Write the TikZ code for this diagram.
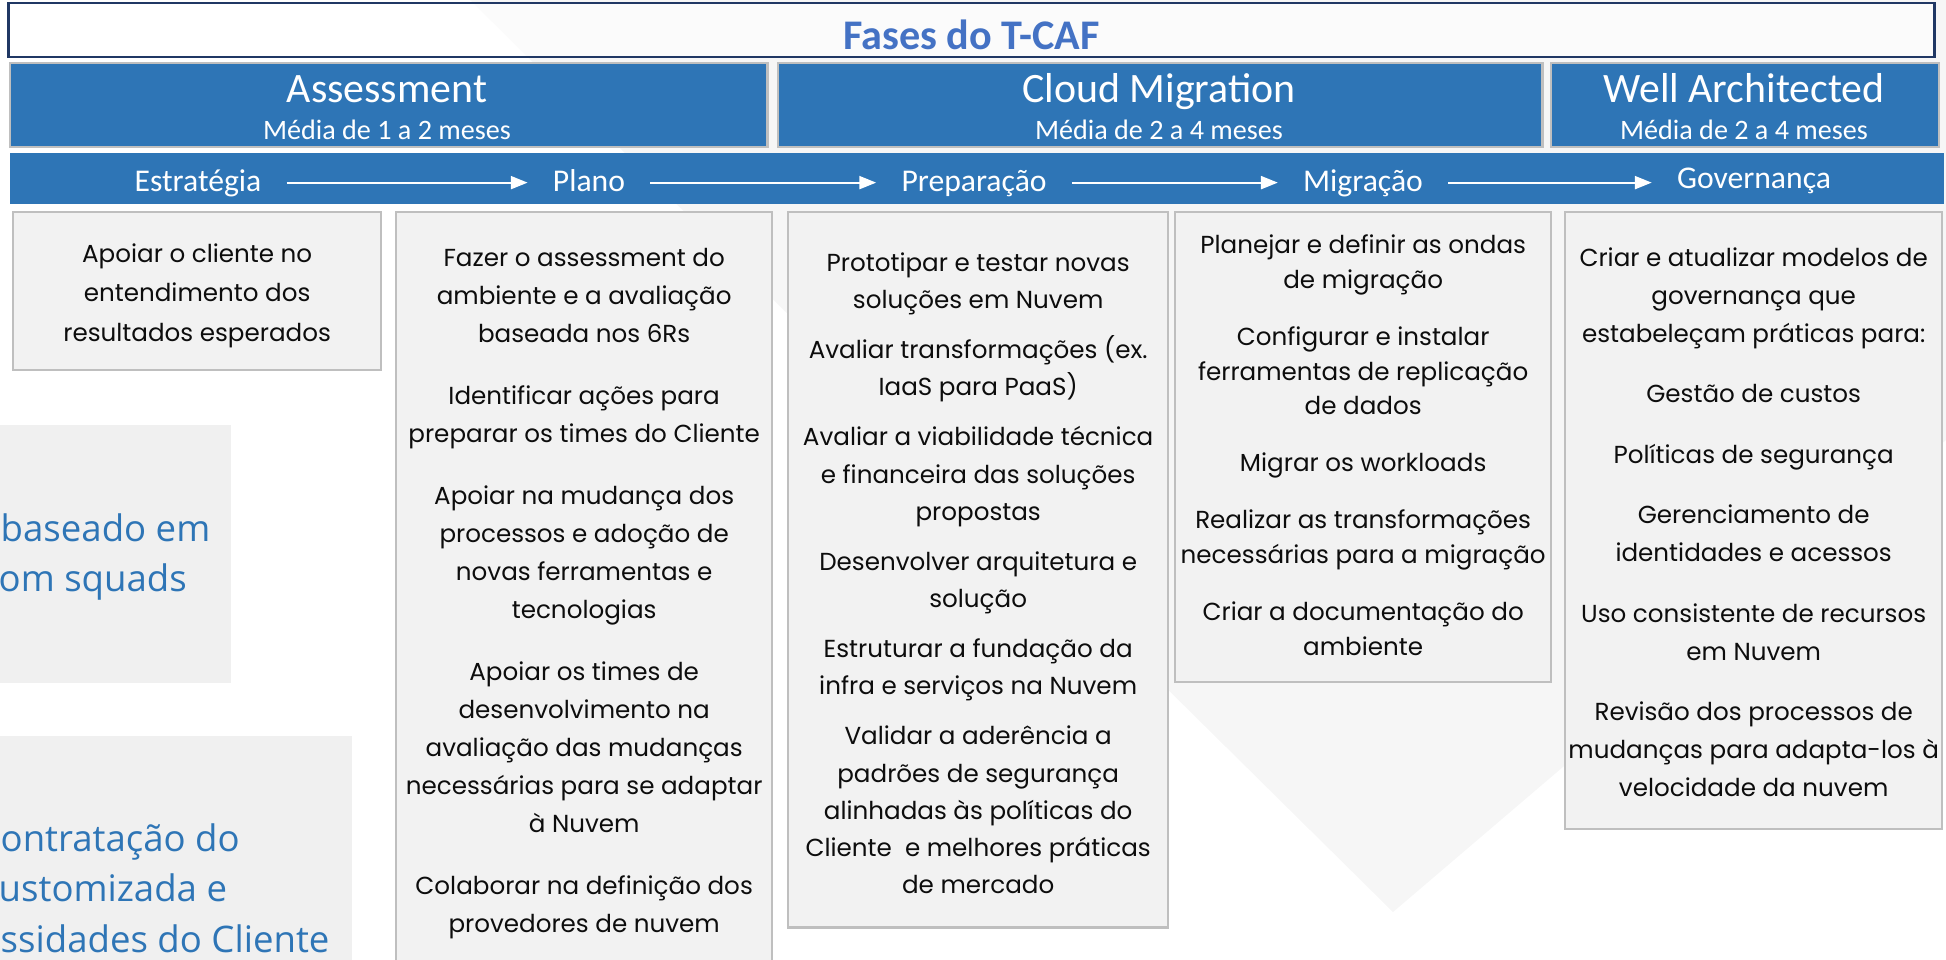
\documentclass[tikz,border=0pt]{standalone}
\usepackage{fontspec}
\setmainfont{Carlito}
\newfontfamily\cardfont{Poppins}
\newfontfamily\sidefont{Open Sans}
\usetikzlibrary{positioning,arrows.meta}

\definecolor{tcafblue}{HTML}{2E75B6}
\definecolor{titleblue}{HTML}{4472C4}
\definecolor{titleedge}{HTML}{203864}
\definecolor{cardfill}{HTML}{F2F2F2}
\definecolor{cardedge}{HTML}{BFBFBF}
\definecolor{panelfill}{HTML}{F0F0F0}
\definecolor{wmark}{HTML}{F6F6F6}

\begin{document}
\begin{tikzpicture}[x=0.01cm, y=-0.01cm,
    titlebox/.style={draw=titleedge, line width=0.7pt, fill=white, fill opacity=0.6, inner sep=0pt},
    titletext/.style={text=titleblue, font=\fontsize{12}{14}\selectfont\bfseries, inner sep=0pt},
    phasebox/.style={draw=cardedge, line width=0.6pt, fill=tcafblue, anchor=north west,
      inner sep=0pt, minimum height=0.84cm},
    phasename/.style={text=white, font=\fontsize{11.9}{14}\selectfont, anchor=base, inner sep=0pt},
    phasedur/.style={text=white, font=\fontsize{8}{10}\selectfont, anchor=base, inner sep=0pt},
    stagelbl/.style={text=white, font=\fontsize{9}{11}\selectfont, anchor=base, inner sep=0pt},
    flow/.style={white, line width=0.6pt, -{Triangle[length=4.8pt,width=3.7pt]},
      shorten <=7pt, shorten >=7pt},
    card/.style={draw=cardedge, line width=0.6pt, fill=cardfill, anchor=north west, inner sep=0pt},
    cardtext/.style={align=center, inner sep=0pt, text=black!95,
      font=\cardfont\fontsize{7}{10.8}\selectfont},
    sidetext/.style={text=tcafblue, font=\sidefont\fontsize{10.4}{14.5}\selectfont,
      anchor=base west, inner sep=0pt}
  ]
  \useasboundingbox (0,0) rectangle (1946,959);

  % Watermark behind everything
  \fill[wmark] (470,0) -- (1393,912) -- (1946,440) -- (1946,0) -- cycle;

  % Panels cut by the left edge
  \fill[panelfill] (0,425) rectangle (231,683);
  \fill[panelfill] (0,736) rectangle (352,970);
  \node[sidetext] (squad1) at (0,541) {baseado em};
  \node[sidetext] (squad2) at (-2,591) {om squads};
  \node[sidetext] (hire1) at (0,851) {ontratação do};
  \node[sidetext] (hire2) at (-2,901) {ustomizada e};
  \node[sidetext] (hire3) at (0,952) {ssidades do Cliente};

  % Title
  \node[titlebox, minimum width=19.25cm, minimum height=0.54cm] (title) at (971.5,30) {};
  \node[titletext] (titletxt) at (971.5,35) {Fases do T-CAF};

  % The three phases
  \node[phasebox, minimum width=7.57cm] (ph1) at (9,62) {};
  \node[phasebox, minimum width=7.64cm] (ph2) at (777,62) {};
  \node[phasebox, minimum width=3.88cm] (ph3) at (1550,62) {};
  \node[phasename] (assess) at (387,102) {Assessment};
  \node[phasedur] (assessdur) at (387,139) {Média de 1 a 2 meses};
  \node[phasename] (cloudmig) at (1159,102) {Cloud Migration};
  \node[phasedur] (cloudmigdur) at (1159,139) {Média de 2 a 4 meses};
  \node[phasename] (wellarch) at (1744,102) {Well Architected};
  \node[phasedur] (wellarchdur) at (1744,139) {Média de 2 a 4 meses};

  % The stage bar
  \node[fill=tcafblue, anchor=north west, inner sep=0pt, minimum width=19.33cm,
    minimum height=0.51cm] (bar) at (9,152) {};
  \node[stagelbl] (estr) at (198,191) {Estratégia};
  \node[stagelbl] (plano) at (589,191) {Plano};
  \node[stagelbl] (prep) at (974,191) {Preparação};
  \node[stagelbl] (migr) at (1363,191) {Migração};
  \node[stagelbl] (gov) at (1754,188) {Governança};
  \draw[flow] (estr.mid east) -- (plano.mid west);
  \draw[flow] (plano.mid east) -- (prep.mid west);
  \draw[flow] (prep.mid east) -- (migr.mid west);
  \draw[flow] (migr.mid east) -- (migr.mid east -| gov.west);

  % The cards
  \node[card, minimum width=3.68cm, minimum height=1.58cm] (c1) at (12,211) {};
  \node[card, minimum width=3.76cm, minimum height=7.7cm] (c2) at (395,211) {};
  \node[card, minimum width=3.80cm, minimum height=7.15cm] (c3) at (787,211) {};
  \node[card, minimum width=3.76cm, minimum height=4.70cm] (c4) at (1174,211) {};
  \node[card, minimum width=3.77cm, minimum height=6.17cm] (c5) at (1564,211) {};

  \node[cardtext, font=\cardfont\fontsize{7}{11.2}\selectfont] (c1txt) at ([yshift=-0.45mm]c1.center)
    {Apoiar o cliente no\\entendimento dos\\resultados esperados};
  \node[cardtext, below=0.37cm of c2.north] (c2txt) {Fazer o assessment do\\ambiente e a avaliação\\baseada nos 6Rs\\[6.8pt]
    Identificar ações para\\preparar os times do Cliente\\[6.8pt]
    Apoiar na mudança dos\\processos e adoção de\\novas ferramentas e\\tecnologias\\[6.8pt]
    Apoiar os times de\\desenvolvimento na\\avaliação das mudanças\\necessárias para se adaptar\\à Nuvem\\[6.8pt]
    Colaborar na definição dos\\provedores de nuvem};
  \node[cardtext, below=0.41cm of c3.north, font=\cardfont\fontsize{7}{10.6}\selectfont] (c3txt)
    {Prototipar e testar novas\\soluções em Nuvem\\[3.6pt]
    Avaliar transformações (ex.\\IaaS para PaaS)\\[3.6pt]
    Avaliar a viabilidade técnica\\e financeira das soluções\\propostas\\[3.6pt]
    Desenvolver arquitetura e\\solução\\[3.6pt]
    Estruturar a fundação da\\infra e serviços na Nuvem\\[3.6pt]
    Validar a aderência a\\padrões de segurança\\alinhadas às políticas do\\Cliente\ \ e melhores práticas\\de mercado};
  \node[cardtext, below=0.23cm of c4.north, font=\cardfont\fontsize{7}{9.9}\selectfont] (c4txt)
    {Planejar e definir as ondas\\de migração\\[6.3pt]
    Configurar e instalar\\ferramentas de replicação\\de dados\\[6.3pt]
    Migrar os workloads\\[6.3pt]
    Realizar as transformações\\necessárias para a migração\\[6.3pt]
    Criar a documentação do\\ambiente};
  \node[cardtext, below=0.36cm of c5.north] (c5txt) {Criar e atualizar modelos de\\governança que\\estabeleçam práticas para:\\[6.4pt]
    Gestão de custos\\[6.4pt]
    Políticas de segurança\\[6.4pt]
    Gerenciamento de\\identidades e acessos\\[6.4pt]
    Uso consistente de recursos\\em Nuvem\\[6.4pt]
    Revisão dos processos de\\mudanças para adapta-los à\\velocidade da nuvem};
\end{tikzpicture}
\end{document}
